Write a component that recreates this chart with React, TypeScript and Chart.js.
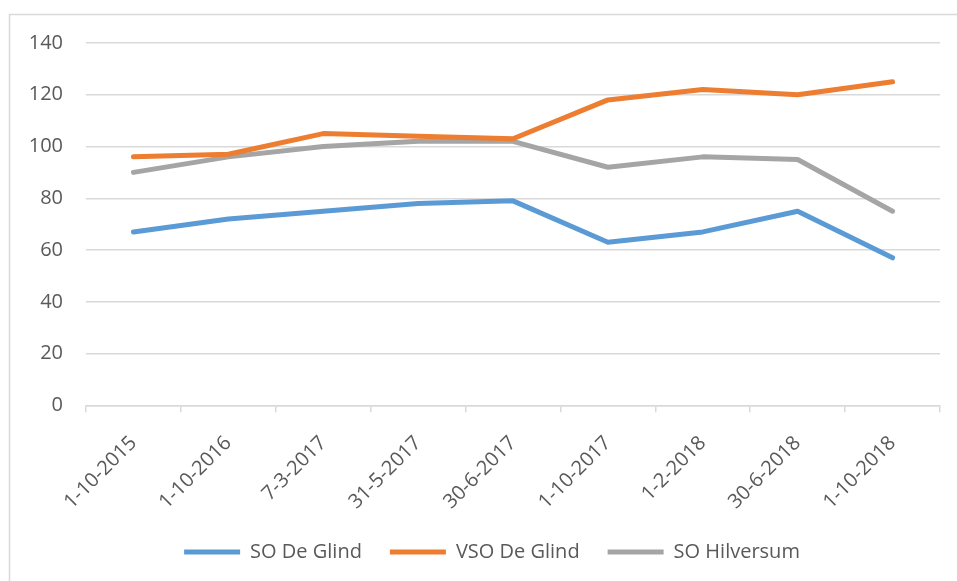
import React, { useEffect, useRef } from "react";
import { Chart, registerables } from "chart.js";

Chart.register(...registerables);

const categories = [
  "1-10-2015",
  "1-10-2016",
  "7-3-2017",
  "31-5-2017",
  "30-6-2017",
  "1-10-2017",
  "1-2-2018",
  "30-6-2018",
  "1-10-2018",
];
const soDeGlind = [67, 72, 75, 78, 79, 63, 67, 75, 57];
const vsoDeGlind = [96, 97, 105, 104, 103, 118, 122, 120, 125];
const soHilversum = [90, 96, 100, 102, 102, 92, 96, 95, 75];
const yMin = 0;
const yMax = 140;
const yStep = 20;

const FONT = "'Open Sans', 'Liberation Sans', sans-serif";
const TEXT = "#595959";
const GRID = "#D9D9D9";

const frame = {
  id: "frame",
  afterLayout(chart: any) {
    const l = chart.legend;
    if (l) {
      l.left += 44;
      l.width = l.right - l.left;
    }
  },
  beforeDraw(chart: any) {
    const ctx = chart.ctx;
    ctx.save();
    ctx.fillStyle = "#ffffff";
    ctx.fillRect(0, 0, chart.width, chart.height);
    ctx.strokeStyle = GRID;
    ctx.lineWidth = 1.5;
    ctx.strokeRect(9.5, 14.5, chart.width + 40, chart.height + 40);
    ctx.restore();
  },
};

export default function App() {
  const ref = useRef<HTMLCanvasElement | null>(null);
  useEffect(() => {
    document.body.style.margin = "0";
    const mk = (label: string, data: number[], color: string) => ({
      label,
      data,
      borderColor: color,
      backgroundColor: color,
      borderWidth: 5,
      pointRadius: 0,
      pointStyle: "line",
      borderCapStyle: "round",
      borderJoinStyle: "round",
      tension: 0,
    });
    const chart = new Chart(ref.current as HTMLCanvasElement, {
      type: "line",
      data: {
        labels: categories,
        datasets: [
          mk("SO De Glind", soDeGlind, "#5B9BD5"),
          mk("VSO De Glind", vsoDeGlind, "#ED7D31"),
          mk("SO Hilversum", soHilversum, "#A5A5A5"),
        ] as any,
      },
      options: {
        animation: false,
        responsive: false,
        maintainAspectRatio: false,
        layout: { padding: { left: 0, right: 17, top: 43, bottom: 9 } },
        plugins: {
          tooltip: { enabled: false },
          legend: {
            position: "bottom",
            labels: {
              usePointStyle: true,
              pointStyleWidth: 56,
              boxHeight: 5,
              padding: 28,
              color: TEXT,
              font: { family: FONT, size: 20 },
            },
          },
        },
        scales: {
          x: {
            offset: true,
            afterFit(scale: any) {
              scale.height -= 19;
            },
            grid: {
              offset: true,
              drawOnChartArea: false,
              drawTicks: true,
              tickLength: 7,
              color: GRID,
              lineWidth: 1.5,
            },
            border: { color: GRID, width: 1.5 },
            ticks: {
              color: TEXT,
              font: { family: FONT, size: 20 },
              minRotation: 45,
              maxRotation: 45,
              padding: 19,
              autoSkip: false,
            },
          },
          y: {
            min: yMin,
            max: yMax,
            afterFit(scale: any) {
              scale.width = 86;
            },
            grid: { color: GRID, lineWidth: 1.5, drawTicks: false },
            border: { display: false },
            ticks: {
              stepSize: yStep,
              color: TEXT,
              font: { family: FONT, size: 20 },
              padding: 23,
            },
          },
        },
      },
      plugins: [frame],
    } as any);
    return () => chart.destroy();
  }, []);
  return <canvas ref={ref} width={957} height={581} style={{ display: "block" }} />;
}
